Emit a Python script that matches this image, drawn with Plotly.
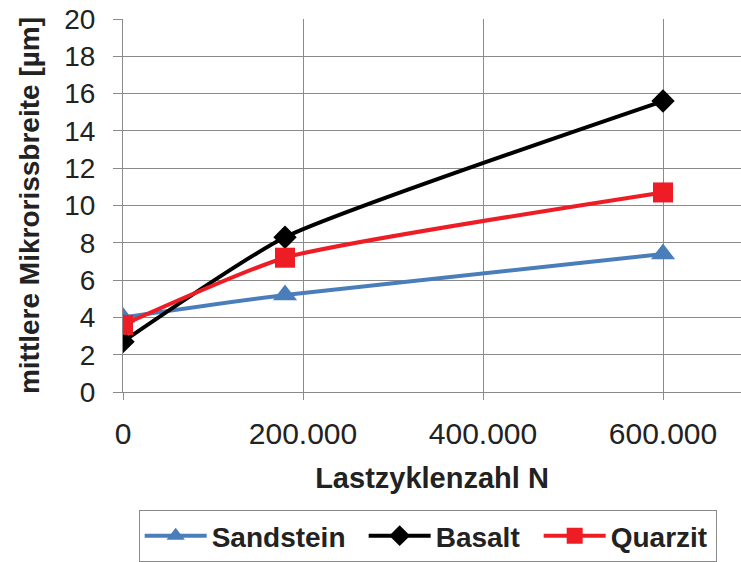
import plotly.graph_objects as go

# Load cycles and mean micro-crack width per rock type
cycles = [0, 180000, 600000]
sandstein = [4.0, 5.2, 7.4]
basalt = [2.7, 8.3, 15.6]
quarzit = [3.6, 7.2, 10.7]

series = [
    ("Sandstein", sandstein, "#4a7ebb", "triangle-up", 21, 147),
    ("Basalt", basalt, "#000000", "diamond", 18, 98),
    ("Quarzit", quarzit, "#ee1c25", "square", 20, 100),
]

fig = go.Figure()
for name, vals, color, symbol, size, lw in series:
    fig.add_trace(go.Scatter(
        x=cycles, y=vals, name=name, mode="lines+markers",
        line=dict(color=color, width=4, shape="spline", smoothing=0.5),
        marker=dict(symbol=symbol, size=size, color=color),
        legendwidth=lw,
    ))

grid = "#8a8a8a"
txt = "#222222"
family = "Liberation Sans, Arial, sans-serif"
fig.update_layout(
    width=741, height=562,
    margin=dict(l=123, r=0, t=19, b=169),
    paper_bgcolor="white", plot_bgcolor="white",
    separators=",.",
    font=dict(family=family, size=28, color=txt),
    showlegend=True,
    legend=dict(
        orientation="h", x=0.493, xanchor="center", y=-0.318, yanchor="top",
        bordercolor=grid, borderwidth=1, itemwidth=62,
        font=dict(size=28, color=txt, family=family, weight="bold"),
        tracegroupgap=0,
    ),
    xaxis=dict(
        range=[0, 686667], tickvals=[0, 200000, 400000, 600000], tickformat=",d",
        showgrid=True, gridcolor=grid, gridwidth=1, zeroline=False,
        showline=True, linecolor=grid, linewidth=1,
        ticks="outside", ticklen=7, tickcolor=grid, ticklabelstandoff=8,
        tickfont=dict(size=30, color=txt),
        title=dict(text="Lastzyklenzahl N", font=dict(size=29, color=txt, weight="bold"), standoff=18),
    ),
    yaxis=dict(
        range=[0, 20], dtick=2,
        showgrid=True, gridcolor=grid, gridwidth=1, zeroline=False,
        showline=True, linecolor=grid, linewidth=1,
        ticks="outside", ticklen=9, tickcolor=grid, ticklabelstandoff=12,
        tickfont=dict(size=28, color=txt),
        title=dict(text="mittlere Mikrorissbreite [µm]", font=dict(size=28, color=txt, weight="bold"), standoff=16),
    ),
)

fig.write_html("out.html")
